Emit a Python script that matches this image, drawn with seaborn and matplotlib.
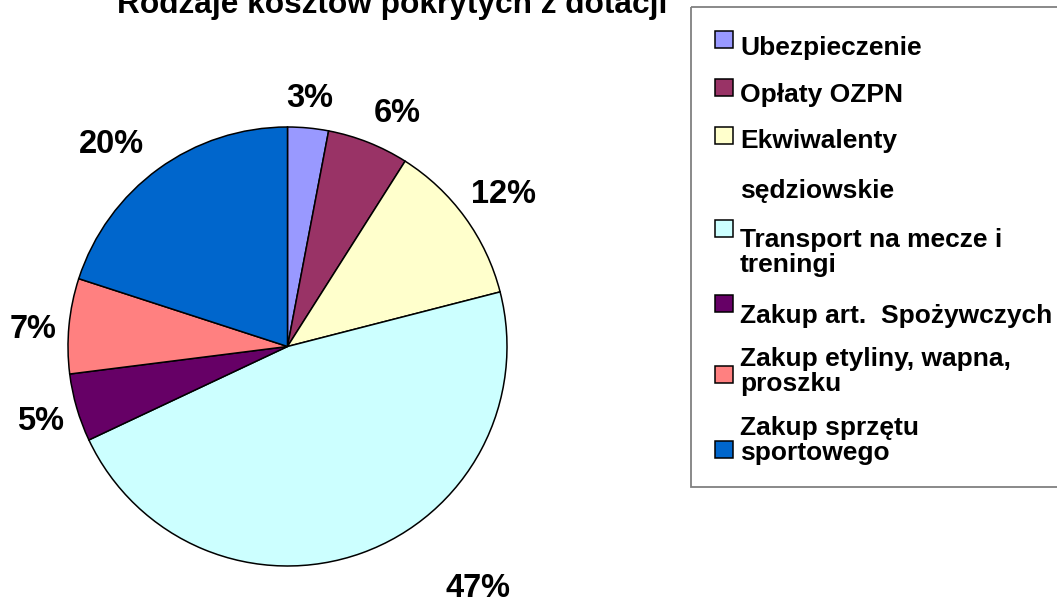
import numpy as np
import matplotlib
matplotlib.use("Agg")
import matplotlib.pyplot as plt
from matplotlib.patches import Rectangle
import seaborn as sns

# data (clockwise from 12 o'clock)
labels = ["Ubezpieczenie", "Opłaty OZPN", "Ekwiwalenty\n\nsędziowskie",
          "Transport na mecze i\ntreningi", "Zakup art.  Spożywczych",
          "Zakup etyliny, wapna,\nproszku", "Zakup sprzętu\nsportowego"]
shares = [3, 6, 12, 47, 5, 7, 20]
colors = ["#9999FF", "#993366", "#FFFFCC", "#CCFFFF", "#660066", "#FF8080", "#0066CC"]
title = "Rodzaje kosztów pokrytych z dotacji"

# where Excel put the % labels: (angle in degrees, distance in radii)
label_spots = [(84.8, 1.134), (64.8, 1.173), (35.1, 1.203), (-51.8, 1.403),
               (-163.1, 1.178), (176.2, 1.164), (131.1, 1.219)]

sns.set_style("white")
plt.rcParams["font.family"] = ["Liberation Sans", "DejaVu Sans"]
plt.rcParams["text.color"] = "black"

W, H = 1057, 597
fig = plt.figure(figsize=(W / 100, H / 100), dpi=100)
fig.patch.set_facecolor("white")

# pie axes: centre (287.5, 346.5) px, radius 219.5 px
cx, cy, R = 287.5, 346.5, 219.5
ax_w = 580
ax = fig.add_axes([0, 0, ax_w / W, 1])
wedges, _, autotexts = ax.pie(shares, colors=colors, startangle=90, counterclock=False,
                              autopct="%.0f%%", pctdistance=1.2,
                              wedgeprops=dict(edgecolor="black", linewidth=1.1),
                              textprops=dict(fontsize=23.5, fontweight="bold", color="black"))
ax.set_aspect("auto")
ax.set_xlim(-cx / R, (ax_w - cx) / R)
ax.set_ylim(-(H - cy) / R, cy / R)
ax.axis("off")

for t, (a, r) in zip(autotexts, label_spots):
    a = np.deg2rad(a)
    t.set_position((r * np.cos(a), r * np.sin(a)))

fig.text(392.5 / W, 1 - 13 / H, title, ha="center", va="baseline",
         fontsize=22.8, fontweight="bold", color="black")

# legend drawn in pixel coordinates to mimic the Excel layout
lg = fig.add_axes([0, 0, 1, 1], zorder=5)
lg.set_xlim(0, W)
lg.set_ylim(H, 0)
lg.axis("off")
lg.patch.set_alpha(0)
lg.add_patch(Rectangle((691, 7), W + 10 - 691, 480, fill=False,
                       edgecolor="#808080", linewidth=1.3))
last_baselines = [55, 102, 198, 272, 323, 391, 460]
box_tops = [31, 79, 127, 220, 295, 366, 441]
for lab, col, yb, yt in zip(labels, colors, last_baselines, box_tops):
    lg.add_patch(Rectangle((714.5, yt), 18, 17, facecolor=col,
                           edgecolor="black", linewidth=1.1))
    lg.text(740, yb, lab, ha="left", va="baseline", fontsize=19,
            fontweight="bold", linespacing=1.05, color="black")

fig.savefig("out.png", dpi=100, facecolor="white")
